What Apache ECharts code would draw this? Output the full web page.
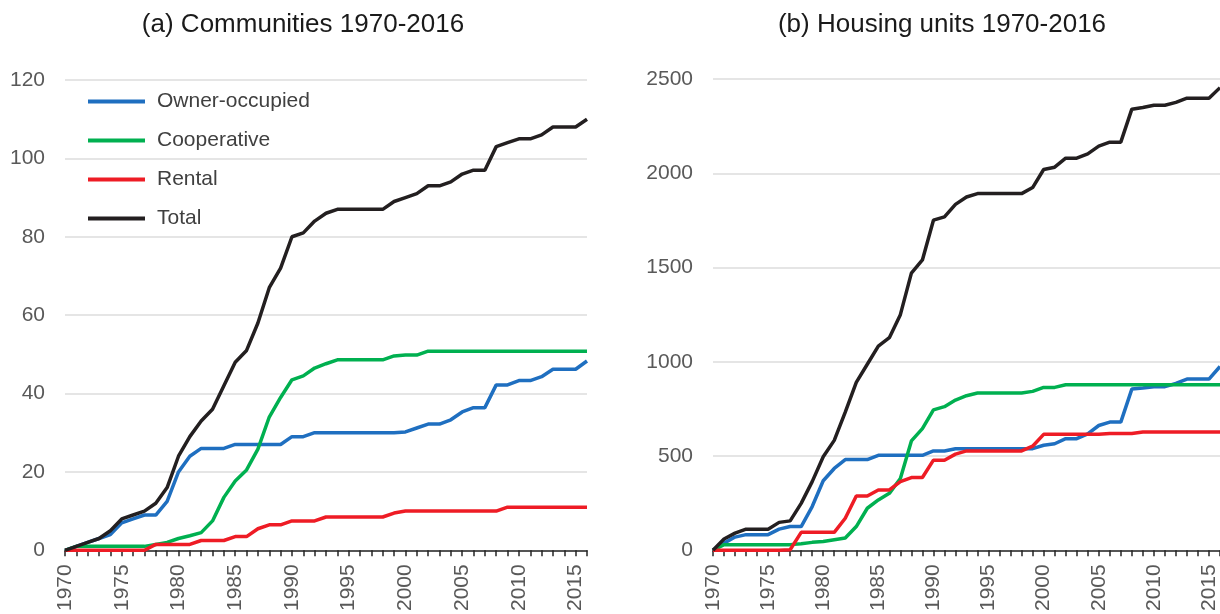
<!DOCTYPE html>
<html>
<head>
<meta charset="UTF-8">
<title>Communities and housing units 1970-2016</title>
<script src="https://cdn.jsdelivr.net/npm/echarts@6/dist/echarts.min.js"></script>
<style>
  html, body { margin: 0; padding: 0; background: #fff; }
  #chart1 { width: 1220px; height: 614px; }
</style>
</head>
<body>
<div id="chart1"></div>
<script type="text/javascript">
// years on the x axis
var years = [];
for (var y = 1970; y <= 2016; y++) years.push(String(y));

var seriesNames = ['Owner-occupied', 'Cooperative', 'Rental', 'Total'];
var seriesColors = ['#1f6fc0', '#00b050', '#ee1c25', '#231f20'];

// (a) communities
var commOwner = [0, 1, 2, 3, 4, 7, 8, 9, 9, 12.5, 20, 24, 26, 26, 26, 27, 27, 27, 27, 27,
  29, 29, 30, 30, 30, 30, 30, 30, 30, 30, 30.2, 31.2, 32.2, 32.2, 33.3, 35.3, 36.4, 36.4,
  42.2, 42.2, 43.3, 43.3, 44.3, 46.2, 46.2, 46.2, 48.3];
var commCoop = [0, 1, 1, 1, 1, 1, 1, 1, 1.5, 2, 3, 3.7, 4.5, 7.5, 13.5, 17.7, 20.5, 25.8, 34, 39,
  43.5, 44.5, 46.5, 47.6, 48.6, 48.6, 48.6, 48.6, 48.6, 49.6, 49.8, 49.8, 50.8, 50.8, 50.8, 50.8,
  50.8, 50.8, 50.8, 50.8, 50.8, 50.8, 50.8, 50.8, 50.8, 50.8, 50.8];
var commRental = [0, 0, 0, 0, 0, 0, 0, 0, 1.5, 1.5, 1.5, 1.5, 2.5, 2.5, 2.5, 3.5, 3.5, 5.5, 6.5, 6.5,
  7.5, 7.5, 7.5, 8.5, 8.5, 8.5, 8.5, 8.5, 8.5, 9.5, 10, 10, 10, 10, 10, 10, 10, 10, 10,
  11, 11, 11, 11, 11, 11, 11, 11];
var commTotal = [0, 1, 2, 3, 5, 8, 9, 10, 12, 16, 24, 29, 33, 36, 42, 48, 51, 58, 67, 72,
  80, 81, 84, 86, 87, 87, 87, 87, 87, 89, 90, 91, 93, 93, 94, 96, 97, 97, 103, 104,
  105, 105, 106, 108, 108, 108, 110];

// (b) housing units
var unitOwner = [0, 38, 70, 83, 83, 83, 112, 126, 126, 232, 369, 434, 481, 481, 481, 504, 504, 504, 504, 504,
  527, 527, 539, 539, 539, 539, 539, 539, 539, 539, 557, 565, 592, 592, 618, 662, 680, 680,
  855, 861, 868, 868, 885, 908, 908, 908, 975];
var unitCoop = [0, 30, 30, 30, 30, 30, 30, 30, 35, 42, 47, 56, 65, 126, 223, 267, 302, 381, 580, 645,
  745, 762, 797, 820, 834, 834, 834, 834, 834, 843, 864, 864, 878, 878, 878, 878, 878, 878,
  878, 878, 878, 878, 878, 878, 878, 878, 878];
var unitRental = [0, 0, 0, 0, 0, 0, 0, 3, 95, 95, 95, 95, 170, 288, 288, 320, 320, 364, 386, 386,
  478, 478, 510, 527, 527, 527, 527, 527, 527, 552, 615, 615, 615, 615, 615, 615, 620, 620,
  620, 627, 627, 627, 627, 627, 627, 627, 627];
var unitTotal = [0, 60, 91, 112, 112, 112, 148, 156, 249, 364, 496, 583, 733, 891, 987, 1083, 1128, 1250, 1470, 1540,
  1751, 1769, 1835, 1874, 1892, 1892, 1892, 1892, 1892, 1924, 2020, 2032, 2080, 2080, 2103, 2144, 2165, 2165,
  2340, 2349, 2361, 2361, 2376, 2398, 2398, 2398, 2454];

var font = 'Liberation Sans, Arial, sans-serif';

function makeX(gridIndex) {
  return {
    type: 'category', gridIndex: gridIndex, data: years, boundaryGap: false,
    axisLine: { lineStyle: { color: '#262626', width: 1.5 } },
    axisTick: { interval: 0, length: 6, lineStyle: { color: '#262626', width: 1.5 } },
    axisLabel: { interval: 4, rotate: 90, margin: 14, fontSize: 21, color: '#595959', fontFamily: font },
    splitLine: { show: false }
  };
}
function makeY(gridIndex, max, interval) {
  return {
    type: 'value', gridIndex: gridIndex, min: 0, max: max, interval: interval,
    axisLine: { show: false }, axisTick: { show: false },
    axisLabel: { margin: 20, fontSize: 21, color: '#595959', fontFamily: font,
      formatter: function (v) { return String(v); } },
    splitLine: { lineStyle: { color: '#dcdcdc', width: 1.5 } }
  };
}
function makeLine(name, idx, data, gridIndex) {
  return {
    name: name, type: 'line', xAxisIndex: gridIndex, yAxisIndex: gridIndex,
    data: data, symbol: 'none', silent: true, animation: false,
    lineStyle: { color: seriesColors[idx], width: 3.5 },
    itemStyle: { color: seriesColors[idx] }
  };
}

var chart1 = echarts.init(document.getElementById('chart1'));
var option = {
  backgroundColor: '#ffffff',
  animation: false,
  title: [
    { text: '(a) Communities 1970-2016', left: 298, top: 7, textAlign: 'center',
      textStyle: { fontSize: 26, fontWeight: 'normal', color: '#1a1a1a', fontFamily: font } },
    { text: '(b) Housing units 1970-2016', left: 937, top: 7, textAlign: 'center',
      textStyle: { fontSize: 26, fontWeight: 'normal', color: '#1a1a1a', fontFamily: font } }
  ],
  legend: {
    orient: 'vertical', left: 83, top: 86, itemGap: 18,
    itemWidth: 57, itemHeight: 4, icon: 'rect',
    data: seriesNames,
    textStyle: { fontSize: 21, color: '#404040', fontFamily: font, padding: [0, 0, 0, 7] }
  },
  grid: [
    { left: 65, right: 633, top: 80, bottom: 61, containLabel: false },
    { left: 713, right: -3, top: 79, bottom: 60, containLabel: false }
  ],
  xAxis: [makeX(0), makeX(1)],
  yAxis: [makeY(0, 120, 20), makeY(1, 2500, 500)],
  series: [
    makeLine('Owner-occupied', 0, commOwner, 0),
    makeLine('Cooperative', 1, commCoop, 0),
    makeLine('Rental', 2, commRental, 0),
    makeLine('Total', 3, commTotal, 0),
    makeLine('Owner-occupied', 0, unitOwner, 1),
    makeLine('Cooperative', 1, unitCoop, 1),
    makeLine('Rental', 2, unitRental, 1),
    makeLine('Total', 3, unitTotal, 1)
  ]
};
chart1.setOption(option);
</script>
</body>
</html>
